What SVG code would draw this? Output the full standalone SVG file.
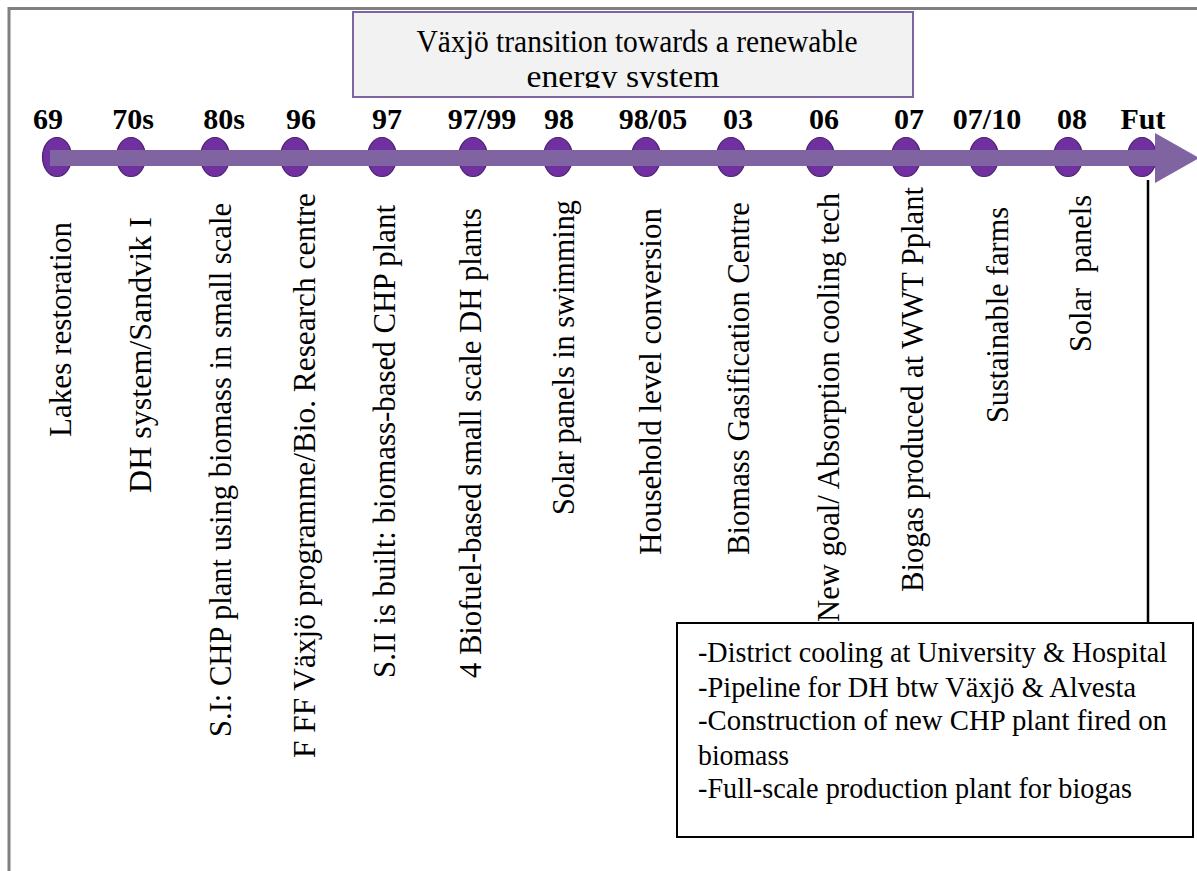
<svg xmlns="http://www.w3.org/2000/svg" width="1197" height="871" viewBox="0 0 1197 871">
<style>
.frame{stroke:#808080;stroke-width:3;fill:none}
.title-box{fill:#f2f2f2;stroke:#8064a2;stroke-width:2}
.title{font-family:"Liberation Serif","Times New Roman",serif;font-size:31px;fill:#000;text-anchor:middle}
.year{font-family:"Liberation Serif","Times New Roman",serif;font-size:30px;font-weight:bold;fill:#000;text-anchor:middle}
.dot{fill:#7030a0;stroke:#4b2270;stroke-width:1.2}
.bar{fill:#8064a2}
.vlabel{font-family:"Liberation Serif","Times New Roman",serif;font-size:31.5px;fill:#000}
.note-box{fill:#fff;stroke:#000;stroke-width:2}
.note{font-family:"Liberation Serif","Times New Roman",serif;font-size:29px;fill:#000}
.link{stroke:#000;stroke-width:2.5;fill:none}
</style>
<defs>
<clipPath id="titleClip"><rect x="354" y="13" width="558" height="75"/></clipPath>
</defs>
<rect width="1197" height="871" fill="#fff"/>
<g id="frame">
<path class="frame" d="M9,871 V8.5 H1197"/>
</g>
<g id="title">
<rect class="title-box" x="353" y="12" width="560" height="85"/>
<g clip-path="url(#titleClip)">
<text class="title" x="637" y="52" textLength="441" lengthAdjust="spacingAndGlyphs">Växjö transition towards a renewable</text>
<text class="title" x="623" y="87" textLength="193" lengthAdjust="spacingAndGlyphs">energy system</text>
</g>
</g>
<g id="connectors">
<line class="link" x1="1148" y1="180" x2="1148" y2="623"/>
</g>
<g id="timeline">
<ellipse class="dot" cx="57" cy="157" rx="14.5" ry="19.5"/>
<ellipse class="dot" cx="131" cy="157" rx="14.5" ry="19.5"/>
<ellipse class="dot" cx="215" cy="157" rx="14.5" ry="19.5"/>
<ellipse class="dot" cx="295" cy="157" rx="14.5" ry="19.5"/>
<ellipse class="dot" cx="382" cy="157" rx="14.5" ry="19.5"/>
<ellipse class="dot" cx="473" cy="157" rx="14.5" ry="19.5"/>
<ellipse class="dot" cx="558" cy="157" rx="14.5" ry="19.5"/>
<ellipse class="dot" cx="646" cy="157" rx="14.5" ry="19.5"/>
<ellipse class="dot" cx="731" cy="157" rx="14.5" ry="19.5"/>
<ellipse class="dot" cx="820" cy="157" rx="14.5" ry="19.5"/>
<ellipse class="dot" cx="906" cy="157" rx="14.5" ry="19.5"/>
<ellipse class="dot" cx="984" cy="157" rx="14.5" ry="19.5"/>
<ellipse class="dot" cx="1068" cy="157" rx="14.5" ry="19.5"/>
<ellipse class="dot" cx="1142" cy="157" rx="14.5" ry="19.5"/>
<rect class="bar" x="50" y="150" width="1106" height="16"/>
<polygon class="bar" points="1155,133 1199,158 1155,183"/>
</g>
<g id="years">
<text class="year" x="48" y="129">69</text>
<text class="year" x="133" y="129">70s</text>
<text class="year" x="224" y="129">80s</text>
<text class="year" x="301" y="129">96</text>
<text class="year" x="387" y="129">97</text>
<text class="year" x="482" y="129">97/99</text>
<text class="year" x="559" y="129">98</text>
<text class="year" x="653" y="129">98/05</text>
<text class="year" x="738" y="129">03</text>
<text class="year" x="824" y="129">06</text>
<text class="year" x="909" y="129">07</text>
<text class="year" x="987" y="129">07/10</text>
<text class="year" x="1072" y="129">08</text>
<text class="year" x="1143" y="129">Fut</text>
</g>
<g id="event-69"><text class="vlabel" transform="translate(71,437) rotate(-90)" textLength="215" lengthAdjust="spacingAndGlyphs">Lakes restoration</text></g>
<g id="event-70s"><text class="vlabel" transform="translate(151,493) rotate(-90)" textLength="276" lengthAdjust="spacingAndGlyphs">DH system/Sandvik I</text></g>
<g id="event-80s"><text class="vlabel" transform="translate(231,737) rotate(-90)" textLength="534" lengthAdjust="spacingAndGlyphs">S.I: CHP plant using biomass in small scale</text></g>
<g id="event-96"><text class="vlabel" transform="translate(315,758) rotate(-90)" textLength="565" lengthAdjust="spacingAndGlyphs">F FF Växjö programme/Bio. Research centre</text></g>
<g id="event-97"><text class="vlabel" transform="translate(395,678) rotate(-90)" textLength="473" lengthAdjust="spacingAndGlyphs">S.II is built: biomass-based CHP plant</text></g>
<g id="event-97-99"><text class="vlabel" transform="translate(481,678) rotate(-90)" textLength="470" lengthAdjust="spacingAndGlyphs">4 Biofuel-based small scale DH plants</text></g>
<g id="event-98"><text class="vlabel" transform="translate(574,515) rotate(-90)" textLength="315" lengthAdjust="spacingAndGlyphs">Solar panels in swimming</text></g>
<g id="event-98-05"><text class="vlabel" transform="translate(661,555) rotate(-90)" textLength="347" lengthAdjust="spacingAndGlyphs">Household level conversion</text></g>
<g id="event-03"><text class="vlabel" transform="translate(749,555) rotate(-90)" textLength="353" lengthAdjust="spacingAndGlyphs">Biomass Gasification Centre</text></g>
<g id="event-06"><text class="vlabel" transform="translate(839,622) rotate(-90)" textLength="429" lengthAdjust="spacingAndGlyphs">New goal/ Absorption cooling tech</text></g>
<g id="event-07"><text class="vlabel" transform="translate(923,592) rotate(-90)" textLength="405" lengthAdjust="spacingAndGlyphs">Biogas produced at WWT Pplant</text></g>
<g id="event-07-10"><text class="vlabel" transform="translate(1008,423) rotate(-90)" textLength="216" lengthAdjust="spacingAndGlyphs">Sustainable farms</text></g>
<g id="event-08"><text class="vlabel" transform="translate(1091,352) rotate(-90)" textLength="157" lengthAdjust="spacingAndGlyphs">Solar&#160; panels</text></g>
<g id="future">
<rect class="note-box" x="677" y="623" width="516" height="214"/>
<text class="note" x="698" y="662" textLength="469" lengthAdjust="spacingAndGlyphs">-District cooling at University &amp; Hospital</text>
<text class="note" x="698" y="697" textLength="438" lengthAdjust="spacingAndGlyphs">-Pipeline for DH btw Växjö &amp; Alvesta</text>
<text class="note" x="698" y="730" textLength="469" lengthAdjust="spacingAndGlyphs">-Construction of new CHP plant fired on</text>
<text class="note" x="698" y="765" textLength="91" lengthAdjust="spacingAndGlyphs">biomass</text>
<text class="note" x="698" y="798" textLength="434" lengthAdjust="spacingAndGlyphs">-Full-scale production plant for biogas</text>
</g>
</svg>
